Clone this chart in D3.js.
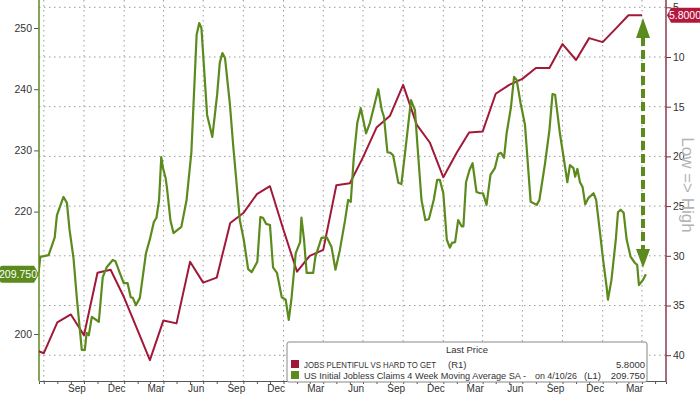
<!DOCTYPE html>
<html>
<head>
<meta charset="utf-8">
<script src="https://cdn.jsdelivr.net/npm/d3@7"></script>
<style>
  body { margin: 0; background: #fff; }
  svg { display: block; font-family: 'Liberation Sans', Arial, sans-serif; }
</style>
</head>
<body>
<svg id="chart" width="700" height="394"></svg>
<script>
// Jobs plentiful vs hard to get (R1, inverted), month-end values
const diffMonths = [
  '2022-05', '2022-06', '2022-07', '2022-08', '2022-09', '2022-10', '2022-11', '2022-12',
  '2023-01', '2023-02', '2023-03', '2023-04', '2023-05', '2023-06', '2023-07', '2023-08',
  '2023-09', '2023-10', '2023-11', '2023-12', '2024-01', '2024-02', '2024-03', '2024-04',
  '2024-05', '2024-06', '2024-07', '2024-08', '2024-09', '2024-10', '2024-11', '2024-12',
  '2025-01', '2025-02', '2025-03', '2025-04', '2025-05', '2025-06', '2025-07', '2025-08',
  '2025-09', '2025-10', '2025-11', '2025-12', '2026-01', '2026-02', '2026-03'
];
const diffValues = [
  39.3, 39.8, 36.7, 35.9, 38.0, 31.7, 31.4, 34.2,
  37.5, 40.5, 36.5, 36.8, 30.6, 32.7, 32.2, 26.7,
  25.7, 23.8, 23.0, 27.4, 31.6, 30.0, 29.4, 22.9,
  22.7, 20.1, 17.1, 15.9, 12.8, 16.8, 18.6, 22.1,
  19.6, 17.6, 17.5, 13.7, 12.8, 12.2, 11.1, 11.1,
  8.7, 10.3, 8.1, 8.5, 7.1, 5.8, 5.8
];

// US initial jobless claims 4wk MA (L1, thousands)
const claimDates = [
  '2022-06-19', '2022-06-23', '2022-07-12', '2022-07-18', '2022-07-26', '2022-07-31', '2022-08-15', '2022-08-23',
  '2022-08-29', '2022-09-07', '2022-09-15', '2022-09-26', '2022-10-03', '2022-10-07', '2022-10-12', '2022-10-19',
  '2022-11-04', '2022-11-13', '2022-11-22', '2022-12-06', '2022-12-12', '2022-12-22', '2022-12-31', '2023-01-09',
  '2023-01-16', '2023-01-21', '2023-01-28', '2023-02-06', '2023-02-20', '2023-03-01', '2023-03-10', '2023-03-16',
  '2023-03-22', '2023-03-27', '2023-03-31', '2023-04-06', '2023-04-09', '2023-04-17', '2023-04-24', '2023-05-12',
  '2023-05-24', '2023-06-04', '2023-06-16', '2023-06-22', '2023-06-27', '2023-07-10', '2023-07-22', '2023-08-02',
  '2023-08-08', '2023-08-14', '2023-08-20', '2023-08-31', '2023-09-08', '2023-09-23', '2023-10-02', '2023-10-12',
  '2023-10-20', '2023-11-02', '2023-11-09', '2023-11-15', '2023-11-22', '2023-12-01', '2023-12-08', '2023-12-17',
  '2023-12-28', '2024-01-06', '2024-01-13', '2024-01-19', '2024-01-29', '2024-02-08', '2024-02-11', '2024-02-17',
  '2024-02-23', '2024-03-09', '2024-03-14', '2024-03-28', '2024-04-09', '2024-04-20', '2024-04-29', '2024-05-09',
  '2024-05-21', '2024-05-28', '2024-06-03', '2024-06-10', '2024-06-18', '2024-06-26', '2024-07-08', '2024-07-17',
  '2024-07-26', '2024-08-05', '2024-08-13', '2024-08-18', '2024-08-26', '2024-09-02', '2024-09-08', '2024-09-20',
  '2024-09-27', '2024-10-07', '2024-10-19', '2024-10-28', '2024-11-03', '2024-11-12', '2024-11-21', '2024-11-29',
  '2024-12-10', '2024-12-18', '2024-12-24', '2025-01-01', '2025-01-09', '2025-01-16', '2025-01-21', '2025-01-28',
  '2025-02-04', '2025-02-12', '2025-02-16', '2025-02-22', '2025-03-02', '2025-03-09', '2025-03-18', '2025-03-26',
  '2025-04-02', '2025-04-10', '2025-04-19', '2025-04-29', '2025-05-07', '2025-05-13', '2025-05-20', '2025-05-26',
  '2025-06-05', '2025-06-12', '2025-06-18', '2025-06-27', '2025-07-07', '2025-07-20', '2025-08-03', '2025-08-09',
  '2025-08-22', '2025-09-01', '2025-09-08', '2025-09-14', '2025-09-25', '2025-10-09', '2025-10-12', '2025-10-18',
  '2025-10-26', '2025-10-30', '2025-11-04', '2025-11-10', '2025-11-16', '2025-11-22', '2025-11-29', '2025-12-11',
  '2025-12-17', '2025-12-26', '2026-01-02', '2026-01-10', '2026-01-13', '2026-01-21', '2026-01-31', '2026-02-05',
  '2026-02-11', '2026-02-18', '2026-02-25', '2026-03-06', '2026-03-16', '2026-03-21', '2026-03-25', '2026-04-03',
  '2026-04-10'
];
const claimValues = [
  210.0, 212.6, 212.9, 214.1, 215.8, 219.4, 222.4, 221.4,
  217.0, 212.4, 205.6, 197.4, 197.4, 200.2, 199.8, 202.8,
  202.0, 209.3, 210.9, 212.1, 211.9, 210.0, 208.3, 208.3,
  206.0, 205.9, 204.7, 205.9, 213.2, 215.5, 218.3, 219.0,
  221.9, 228.9, 227.1, 225.5, 223.9, 218.6, 216.5, 217.5,
  221.9, 229.7, 248.9, 250.8, 250.0, 235.8, 232.2, 239.1,
  244.3, 245.9, 245.1, 237.7, 230.6, 218.6, 215.4, 210.6,
  210.1, 211.8, 219.1, 219.0, 218.0, 217.8, 210.9, 210.0,
  206.0, 205.6, 202.3, 205.6, 213.2, 215.0, 219.0, 215.4,
  210.0, 210.0, 212.6, 215.7, 215.8, 214.2, 210.5, 213.7,
  218.6, 221.9, 221.6, 228.9, 234.5, 236.9, 232.8, 234.5,
  237.1, 240.0, 236.6, 235.5, 229.7, 229.6, 229.2, 224.7,
  224.5, 230.6, 238.2, 236.6, 230.6, 221.9, 218.6, 218.8,
  221.9, 225.2, 225.2, 223.0, 215.4, 214.1, 214.9, 215.0,
  218.6, 217.6, 217.6, 224.8, 226.8, 227.9, 223.2, 223.0,
  223.0, 221.1, 226.0, 227.1, 229.4, 229.6, 228.8, 232.8,
  237.1, 242.0, 241.5, 237.7, 234.2, 221.6, 221.1, 221.9,
  227.9, 233.3, 239.2, 239.1, 232.8, 226.3, 224.8, 227.6,
  227.1, 225.7, 227.0, 224.8, 224.0, 221.2, 222.2, 223.0,
  221.9, 216.5, 212.1, 207.7, 205.6, 208.8, 215.4, 219.9,
  220.3, 219.8, 215.4, 212.6, 211.6, 211.3, 208.0, 208.8,
  209.75
];

// 210 sits under the last-value badge, so it is not labelled
const leftTicks = [200, 220, 230, 240, 250];
const leftMinor = [195, 205, 210, 215, 225, 235, 245];
const rightTicks = [5, 10, 15, 20, 25, 30, 35, 40];
const rightMinor = [7.5, 12.5, 17.5, 22.5, 27.5, 32.5, 37.5];
const xLabelMonths = [
  '2022-09', '2022-12', '2023-03', '2023-06', '2023-09', '2023-12', '2024-03', '2024-06',
  '2024-09', '2024-12', '2025-03', '2025-06', '2025-09', '2025-12', '2026-03'
];

const redName = 'JOBS PLENTIFUL VS HARD TO GET';
const greenName = 'US Initial Jobless Claims 4 Week Moving Average SA -';
const lastRed = '5.8000';
const lastGreen = '209.750';

const red = '#a01a38';
const green = '#5b8a1d';

const svg = d3.select('#chart');
const plot = { left: 39, right: 666, top: 0, bottom: 381 };

const parseDay = d3.timeParse('%Y-%m-%d');
const parseMonth = d3.timeParse('%Y-%m');

const x = d3.scaleTime()
  .domain([new Date(2022, 5, 20), new Date(2026, 4, 26)])
  .range([plot.left, plot.right]);
const yL = d3.scaleLinear().domain([200, 250]).range([334, 28]);
const yR = d3.scaleLinear().domain([5, 40]).range([7.3, 355.2]);

svg.append('defs').append('clipPath').attr('id', 'clip')
  .append('rect')
  .attr('x', plot.left).attr('y', plot.top)
  .attr('width', plot.right - plot.left).attr('height', plot.bottom - plot.top);

// grid
const grid = svg.append('g').attr('stroke', '#9a9a9a').attr('stroke-width', 1)
  .attr('stroke-dasharray', '1.5,3.5');
grid.selectAll('.hg').data(rightTicks).enter().append('line')
  .attr('x1', plot.left).attr('x2', plot.right)
  .attr('y1', d => yR(d)).attr('y2', d => yR(d));
const quarters = d3.timeMonth.every(3).range(x.domain()[0], x.domain()[1]);
grid.selectAll('.vg').data(quarters).enter().append('line')
  .attr('x1', d => x(d)).attr('x2', d => x(d))
  .attr('y1', plot.top).attr('y2', plot.bottom);

// bottom axis
const months = d3.timeMonth.range(x.domain()[0], x.domain()[1]);
svg.append('g')
  .attr('transform', `translate(0,${plot.bottom})`)
  .call(d3.axisBottom(x).tickValues(months).tickSize(3).tickFormat(''))
  .call(g => g.select('.domain').attr('stroke', '#555'))
  .call(g => g.selectAll('.tick line').attr('stroke', '#555'));
svg.append('g').selectAll('text')
  .data(xLabelMonths.map(m => d3.timeDay.offset(parseMonth(m), 14)))
  .enter().append('text')
  .attr('x', d => x(d)).attr('y', 392)
  .attr('text-anchor', 'middle')
  .attr('font-size', 10).attr('fill', '#333')
  .text(d => d3.timeFormat('%b')(d));

// left axis
const leftAxis = svg.append('g').attr('transform', `translate(${plot.left},0)`);
leftAxis.call(d3.axisLeft(yL).tickValues(leftMinor).tickSize(3).tickFormat(''));
leftAxis.call(d3.axisLeft(yL).tickValues(leftTicks).tickSize(5).tickPadding(2));
leftAxis.selectAll('.domain').remove();
leftAxis.selectAll('.tick line').attr('stroke', '#555');
leftAxis.selectAll('.tick text').attr('font-size', 10.5).attr('fill', '#333')
  .attr('font-family', "'Liberation Sans', Arial, sans-serif");
leftAxis.append('line').attr('y1', plot.top).attr('y2', plot.bottom)
  .attr('stroke', green).attr('stroke-width', 1.5);

// right axis
const rightAxis = svg.append('g').attr('transform', `translate(${plot.right},0)`);
rightAxis.call(d3.axisRight(yR).tickValues(rightMinor).tickSize(3).tickFormat(''));
rightAxis.call(d3.axisRight(yR).tickValues(rightTicks).tickSize(5).tickPadding(2));
rightAxis.selectAll('.domain').remove();
rightAxis.selectAll('.tick line').attr('stroke', '#7a2a3a');
rightAxis.selectAll('.tick text').attr('font-size', 10.5).attr('fill', '#333')
  .attr('font-family', "'Liberation Sans', Arial, sans-serif");
rightAxis.append('line').attr('y1', plot.top).attr('y2', plot.bottom)
  .attr('stroke', '#8a3a4c').attr('stroke-width', 1.5);

svg.append('text')
  .attr('transform', 'translate(682,185) rotate(90)')
  .attr('text-anchor', 'middle')
  .attr('font-size', 17).attr('fill', '#b3b3b3')
  .text('Low => High');

// lines
const lines = svg.append('g').attr('clip-path', 'url(#clip)');
const redData = diffMonths.map((m, i) => ({ date: d3.timeMonth.offset(parseMonth(m), 1), value: diffValues[i] }));
const greenData = claimDates.map((d, i) => ({ date: parseDay(d), value: claimValues[i] }));

lines.append('path').datum(redData)
  .attr('fill', 'none').attr('stroke', red).attr('stroke-width', 2).attr('stroke-linejoin', 'round')
  .attr('d', d3.line().x(d => x(d.date)).y(d => yR(d.value)));
lines.append('path').datum(greenData)
  .attr('fill', 'none').attr('stroke', green).attr('stroke-width', 2.2).attr('stroke-linejoin', 'round')
  .attr('d', d3.line().x(d => x(d.date)).y(d => yL(d.value)));

// dashed arrow
const ax = 643;
svg.append('line')
  .attr('x1', ax).attr('x2', ax).attr('y1', 37).attr('y2', 250)
  .attr('stroke', green).attr('stroke-width', 4).attr('stroke-dasharray', '9,4');
svg.append('path').attr('fill', green)
  .attr('d', `M${ax},18 L${ax - 7},38 L${ax + 7},38 Z M${ax},268 L${ax - 7},249 L${ax + 7},249 Z`);

// last value badges
const gy = yL(+lastGreen);
svg.append('path').attr('fill', green)
  .attr('d', `M2,${gy - 8.5} H34 L39,${gy} L34,${gy + 8.5} H2 Q0,${gy + 8.5} 0,${gy + 6.5} V${gy - 6.5} Q0,${gy - 8.5} 2,${gy - 8.5} Z`);
svg.append('text').attr('x', 18).attr('y', gy + 3.8)
  .attr('text-anchor', 'middle').attr('font-size', 10.5).attr('fill', '#fff')
  .text(lastGreen);

const ry = yR(+lastRed);
svg.append('path').attr('fill', '#b3173b')
  .attr('d', `M667,${ry} L671,${ry - 7.5} H700 V${ry + 7.5} H671 Z`);
svg.append('text').attr('x', 685).attr('y', ry + 3.8)
  .attr('text-anchor', 'middle').attr('font-size', 10.5).attr('fill', '#fff')
  .text(lastRed);

// legend
const legend = svg.append('g').attr('font-size', 9.5).attr('fill', '#333');
legend.append('rect')
  .attr('x', 287).attr('y', 342).attr('width', 360).attr('height', 40).attr('rx', 2)
  .attr('fill', '#fff').attr('stroke', '#888');
legend.append('text').attr('x', 467).attr('y', 353).attr('text-anchor', 'middle').text('Last Price');
legend.append('rect').attr('x', 291).attr('y', 360).attr('width', 8).attr('height', 8).attr('fill', red);
legend.append('rect').attr('x', 291).attr('y', 371).attr('width', 8).attr('height', 8).attr('fill', green);
legend.append('text').attr('x', 304).attr('y', 367.5)
  .attr('textLength', 132).attr('lengthAdjust', 'spacingAndGlyphs').text(redName);
legend.append('text').attr('x', 448).attr('y', 367.5).text('(R1)');
legend.append('text').attr('x', 645).attr('y', 367.5).attr('text-anchor', 'end').text(lastRed);
legend.append('text').attr('x', 304).attr('y', 378.5)
  .attr('textLength', 222).attr('lengthAdjust', 'spacingAndGlyphs').text(greenName);
legend.append('text').attr('x', 535).attr('y', 378.5)
  .attr('textLength', 42).attr('lengthAdjust', 'spacingAndGlyphs').text('on 4/10/26');
legend.append('text').attr('x', 584).attr('y', 378.5).text('(L1)');
legend.append('text').attr('x', 645).attr('y', 378.5).attr('text-anchor', 'end').text(lastGreen);
</script>
</body>
</html>
